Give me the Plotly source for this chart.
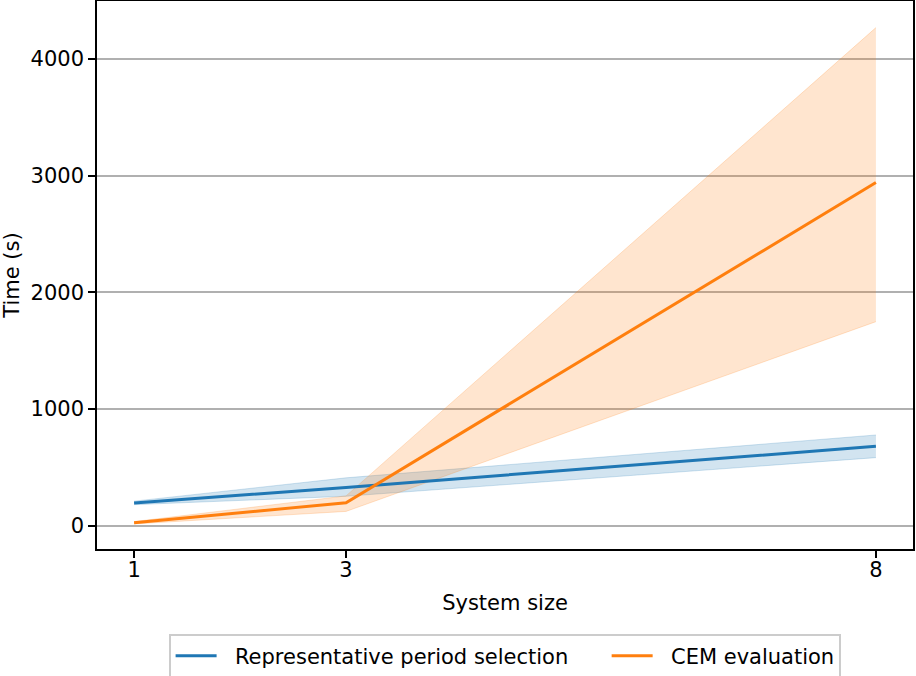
import plotly.graph_objects as go

# Data
system_size = [1, 3, 8]
rps_mean = [195, 328, 680]
rps_lo = [180, 252, 583]
rps_hi = [210, 410, 777]
cem_mean = [25, 197, 2940]
cem_lo = [15, 122, 1748]
cem_hi = [35, 255, 4268]
series_names = ["Representative period selection", "CEM evaluation"]
y_ticks = [0, 1000, 2000, 3000, 4000]
x_ticks = [1, 3, 8]

BLUE = "#1f77b4"
ORANGE = "#ff7f0e"
BLUE_A = "rgba(31,119,180,0.2)"
ORANGE_A = "rgba(255,127,14,0.2)"
FONT = "DejaVu Sans"
FS = 21
NB = "\u00a0"

fig = go.Figure()

def add_band(lo, hi, fillc):
    fig.add_trace(go.Scatter(x=system_size, y=hi, mode="lines",
                             line=dict(color=fillc, width=1),
                             showlegend=False, hoverinfo="skip"))
    fig.add_trace(go.Scatter(x=system_size, y=lo, mode="lines",
                             line=dict(color=fillc, width=1),
                             fill="tonexty", fillcolor=fillc,
                             showlegend=False, hoverinfo="skip"))

add_band(rps_lo, rps_hi, BLUE_A)
add_band(cem_lo, cem_hi, ORANGE_A)

fig.add_trace(go.Scatter(x=system_size, y=rps_mean, mode="lines",
                         line=dict(color=BLUE, width=3),
                         name=NB * 2 + series_names[0] + NB * 5))
fig.add_trace(go.Scatter(x=system_size, y=cem_mean, mode="lines",
                         line=dict(color=ORANGE, width=3),
                         name=NB * 2 + series_names[1]))

fig.update_layout(
    width=916, height=676,
    margin=dict(l=97, r=3, t=1, b=127, autoexpand=False),
    plot_bgcolor="white", paper_bgcolor="white",
    font=dict(family=FONT, size=FS, color="black"),
    showlegend=True,
    legend=dict(orientation="h", x=0.5, xanchor="center", y=-0.155, yanchor="top",
                bordercolor="#cccccc", borderwidth=1.6, bgcolor="white",
                font=dict(family=FONT, size=FS), traceorder="normal",
                itemwidth=41),
)

fig.update_xaxes(
    range=[0.65, 8.35], tickmode="array", tickvals=x_ticks,
    ticktext=[str(v) for v in x_ticks],
    showgrid=False, zeroline=False, automargin=False,
    showline=True, linecolor="black", linewidth=1.6, mirror=True,
    ticks="outside", ticklen=7, tickwidth=1.6, tickcolor="black",
    ticklabelstandoff=-6,
    title=dict(text="System size", standoff=14, font=dict(size=FS)),
)
fig.update_yaxes(
    range=[-200, 4496], tickmode="array", tickvals=y_ticks,
    ticktext=[str(v) for v in y_ticks],
    showgrid=True, gridcolor="#b0b0b0", gridwidth=1.6, zeroline=False,
    automargin=False,
    showline=True, linecolor="black", linewidth=1.6, mirror=True,
    ticks="outside", ticklen=7, tickwidth=1.6, tickcolor="black",
    title=dict(text="Time (s)", standoff=9, font=dict(size=FS)),
)

fig.write_html("out.html", config={"displayModeBar": False},
               post_script="document.body.style.margin='0px';")
